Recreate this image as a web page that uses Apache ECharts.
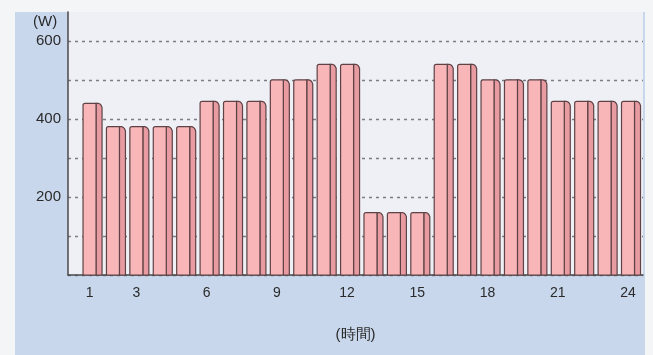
<!DOCTYPE html>
<html><head><meta charset="utf-8">
<script src="https://cdn.jsdelivr.net/npm/echarts@6/dist/echarts.min.js"></script>
<style>html,body{margin:0;padding:0;background:#f3f5f7;}#c{width:653px;height:355px;}</style>
</head><body><div id="c"></div>
<script>
const hours = [1,2,3,4,5,6,7,8,9,10,11,12,13,14,15,16,17,18,19,20,21,22,23,24];
const watts = [440,380,380,380,380,445,445,445,500,500,540,540,160,160,160,540,540,500,500,500,445,445,445,445];
const xTickLabels = [1,3,6,9,12,15,18,21,24];
const yTickLabels = [200,400,600];
const yUnit = '(W)';
const xName = '(時間)';

const chart = echarts.init(document.getElementById('c'), null, {renderer:'canvas'});
const FW = 13, SW = 6;
const gl = '#7c7c84';
const gridColors = [gl,gl,gl,gl,gl,gl,gl,'rgba(0,0,0,0)'];
const FONT = 'Liberation Sans, Arial, sans-serif';
chart.setOption({
  animation:false,
  backgroundColor:'#f3f5f7',
  textStyle:{fontFamily:FONT},
  graphic:[
    {type:'rect', z:-10, shape:{x:15,y:12,width:630,height:343}, style:{fill:'#c8d7eb'}},
    {type:'text', left:33, top:14, style:{text:yUnit, fontSize:15, fill:'#2a2a2a', fontFamily:FONT}}
  ],
  grid:{left:68, right:10, top:12, bottom:80, show:true, backgroundColor:'#eef0f5', borderWidth:0},
  xAxis:{
    type:'value', min:0.08, max:24.64,
    name:xName, nameLocation:'middle', nameGap:52,
    nameTextStyle:{fontSize:15, color:'#2a2a2a'},
    axisLine:{show:true, lineStyle:{color:'#4a4a4a', width:1.5}},
    axisTick:{show:false},
    splitLine:{show:false},
    axisLabel:{customValues:xTickLabels, color:'#2a2a2a', fontSize:14, margin:11}
  },
  yAxis:{
    type:'value', min:0, max:674, interval:100,
    axisLine:{show:true, lineStyle:{color:'#4a4a4a', width:1.5}},
    axisTick:{show:false},
    splitLine:{show:true, lineStyle:{color:gridColors, type:[3,4], width:1.4}},
    axisLabel:{color:'#2a2a2a', fontSize:15, margin:7,
      formatter:v => yTickLabels.indexOf(v) >= 0 ? String(v) : ''}
  },
  series:[{
    type:'custom',
    data:hours.map((h,i)=>[h, watts[i]]),
    renderItem:function(params, api){
      const x = api.value(0), v = api.value(1);
      const top = api.coord([x, v]);
      const base = api.coord([x, 0]);
      const x0 = top[0] - FW/2, x1 = x0 + FW, x2 = x1 + SW;
      const yt = top[1], yb = base[1];
      return {type:'group', children:[
        {type:'polygon', shape:{points:[[x1,yt],[x1+2.2,yt],[x1+3.9,yt+0.7],[x1+5.1,yt+2.0],[x2,yt+4.2],[x2,yb],[x1,yb]]},
          style:{fill:'#e89ca1', stroke:'#5e4246', lineWidth:1.2}},
        {type:'rect', shape:{x:x0, y:yt, width:FW, height:yb-yt, r:[2,0,0,0]},
          style:{fill:'#f8b6b8', stroke:'#5e4246', lineWidth:1.2}}
      ]};
    }
  }]
});
</script></body></html>
